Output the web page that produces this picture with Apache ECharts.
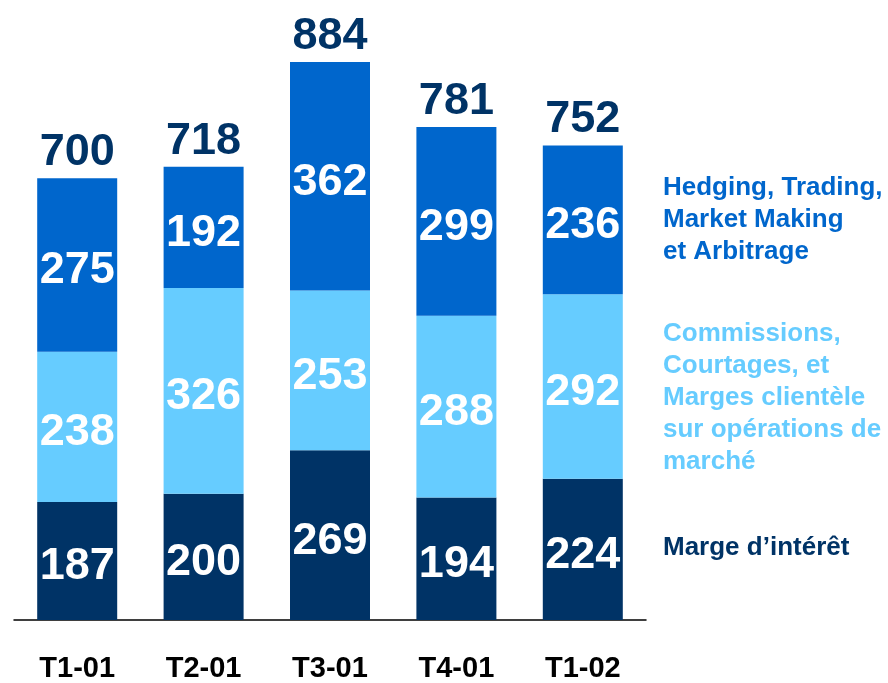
<!DOCTYPE html>
<html>
<head>
<meta charset="utf-8">
<script src="https://cdn.jsdelivr.net/npm/echarts@6/dist/echarts.min.js"></script>
<style>
    html, body { margin: 0; padding: 0; background: #fff; }
    #main { width: 888px; height: 683px; }
</style>
</head>
<body>
<div id="main"></div>
<script>
// données
var categories = ['T1-01', 'T2-01', 'T3-01', 'T4-01', 'T1-02']
var margeInteret = [187, 200, 269, 194, 224]
var commissions = [238, 326, 253, 288, 292]
var hedging = [275, 192, 362, 299, 236]
var totals = [700, 718, 884, 781, 752]

var navy = '#003366'
var light = '#66ccff'
var mid = '#0066cc'
var font = 'Liberation Sans, Arial, sans-serif'

var innerLabel = {
    show: true,
    position: 'inside',
    offset: [0, 6],
    color: '#fff',
    fontSize: 45,
    fontWeight: 'bold',
    fontFamily: font
}

function segment (name, data, color) {
    return {
        name: name,
        type: 'bar',
        stack: 'total',
        barWidth: 80,
        data: data,
        itemStyle: { color: color },
        label: innerLabel,
        silent: true
    }
}

var legendText = function (text, top, color) {
    return {
        type: 'text',
        left: 663,
        top: top,
        style: {
            text: text,
            fill: color,
            font: 'bold 26px ' + font,
            lineHeight: 32
        }
    }
}

var myChart = echarts.init(document.getElementById('main'))
myChart.setOption({
    animation: false,
    grid: {
        left: 14,
        top: 52,
        width: 632,
        height: 568
    },
    xAxis: {
        type: 'category',
        data: categories,
        axisTick: { show: false },
        axisLine: { lineStyle: { color: '#000', width: 1.5 } },
        axisLabel: {
            margin: 34,
            color: '#000',
            fontSize: 29,
            fontWeight: 'bold',
            fontFamily: font
        }
    },
    yAxis: {
        type: 'value',
        min: 0,
        max: 900,
        show: false,
        splitLine: { show: false }
    },
    series: [
        segment('Marge d’intérêt', margeInteret, navy),
        segment('Commissions', commissions, light),
        segment('Hedging', hedging, mid),
        {
            // totaux au-dessus des barres
            type: 'scatter',
            data: totals,
            symbolSize: 0,
            silent: true,
            itemStyle: { opacity: 1, color: navy },
            label: {
                show: true,
                position: 'top',
                distance: 3,
                color: navy,
                fontSize: 45,
                fontWeight: 'bold',
                fontFamily: font
            }
        }
    ],
    graphic: [
        legendText('Hedging, Trading,\nMarket Making\net Arbitrage', 172, mid),
        legendText('Commissions,\nCourtages, et\nMarges clientèle\nsur opérations de\nmarché', 318, light),
        legendText('Marge d’intérêt', 532, navy)
    ]
})
</script>
</body>
</html>
